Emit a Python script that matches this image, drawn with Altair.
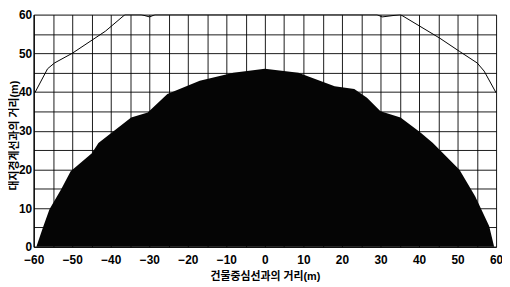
import altair as alt
import pandas as pd

# filled region (x, y)
fill_x = [-59.3, -57.6, -55.9, -52.9, -50.4, -44.9, -43.2, -34.7, -30.4, -25.3, -16.9, -8.2, 0.0,
          8.7, 18.1, 23.2, 26.5, 30.0, 35.2, 40.3, 43.6, 50.5, 54.6, 58.2, 59.5]
fill_y = [0.0, 5.0, 9.7, 14.8, 19.5, 24.2, 26.8, 33.4, 34.7, 39.5, 42.9, 45.0, 46.0,
          45.0, 41.5, 40.8, 38.5, 35.0, 33.4, 29.6, 26.8, 19.9, 13.0, 5.4, 0.0]

# boundary line (x, y)
line_x = [-59.7, -56.4, -54.6, -50.0, -41.4, -36.3, -32.1, -29.9, -28.5, 0.0,
          29.1, 30.4, 35.2, 45.4, 50.5, 55.1, 56.9, 60.0]
line_y = [39.8, 46.0, 47.5, 50.0, 55.7, 60.0, 60.0, 59.4, 60.0, 60.0,
          60.0, 59.4, 60.0, 53.9, 50.5, 47.5, 45.4, 39.8]

x_ticks = list(range(-60, 61, 5))
y_ticks = list(range(0, 61, 5))

fill_df = pd.DataFrame({"x": fill_x, "y": fill_y})
line_df = pd.DataFrame({"x": line_x, "y": line_y})

FONT = "Liberation Sans, Noto Sans CJK KR, sans-serif"

W, H = 468, 235

xscale = alt.Scale(domain=[-60, 60], nice=False, zero=False)
yscale = alt.Scale(domain=[0, 60], nice=False)

xaxis = alt.Axis(values=x_ticks, labelExpr="datum.value % 10 == 0 ? datum.label : ''",
                 title="건물중심선과의 거리(m)", grid=True, gridColor="black", gridOpacity=1,
                 gridWidth=0.9, tickSize=0, labelPadding=8, labelFont=FONT, labelFontSize=12,
                 labelFontWeight="bold", labelColor="black", titleFont=FONT, titleFontSize=11,
                 titleFontWeight="bold", titleColor="black", titlePadding=5,
                 domainColor="black", domainWidth=1.2, labelFlush=False, labelOverlap=False)
yaxis = alt.Axis(values=y_ticks, labelExpr="datum.value % 10 == 0 ? datum.label : ''",
                 title="대지경계선과의 거리(m)", grid=True, gridColor="black", gridOpacity=1,
                 gridWidth=0.9, tickSize=0, labelPadding=2, labelFont=FONT, labelFontSize=12,
                 labelFontWeight="bold", labelColor="black", titleFont=FONT, titleFontSize=11,
                 titleFontWeight="bold", titleColor="black", titleAngle=270,
                 titleX=-19, titleY=122, titleBaseline="middle", titleAlign="center",
                 domainColor="black", domainWidth=1.2, labelFlush=False, labelOverlap=False)

area = alt.Chart(fill_df).mark_area(color="#050505", opacity=1).encode(
    x=alt.X("x:Q", scale=xscale, axis=xaxis),
    y=alt.Y("y:Q", scale=yscale, axis=yaxis),
)

line = alt.Chart(line_df).mark_line(color="black", strokeWidth=1, clip=True).encode(
    x=alt.X("x:Q", scale=xscale, axis=xaxis),
    y=alt.Y("y:Q", scale=yscale, axis=yaxis),
)

chart = (area + line).properties(
    width=W, height=H,
    autosize=alt.AutoSizeParams(type="none"),
    padding={"left": 26, "top": 5, "right": 6, "bottom": 38},
).configure_view(stroke="black", strokeWidth=1.2).configure(background="white")

chart.save("out.html", embed_options={"renderer": "svg", "actions": False})
